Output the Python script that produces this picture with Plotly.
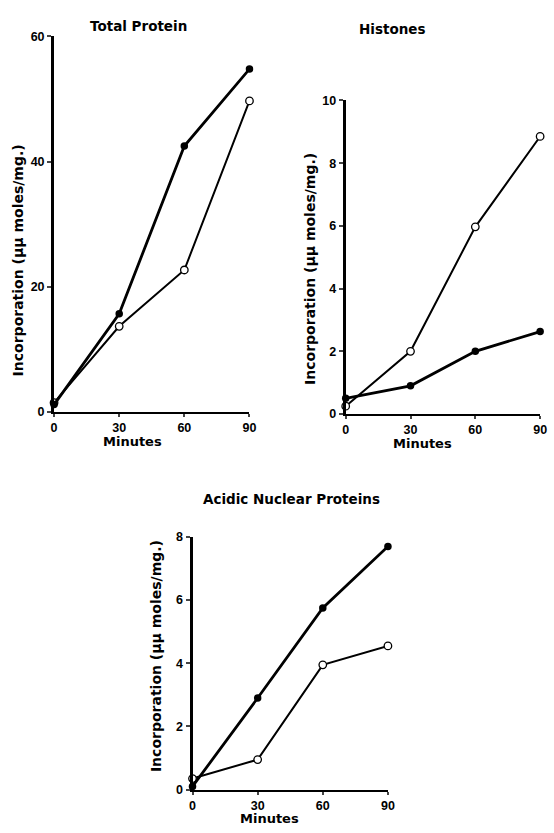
import plotly.graph_objects as go

W, H = 554, 833
minutes = [0, 30, 60, 90]
x_ticks = [0, 30, 60, 90]

total_filled = [1.2, 15.7, 42.5, 54.8]
total_open = [1.5, 13.7, 22.7, 49.7]
hist_filled = [0.5, 0.9, 2.0, 2.63]
hist_open = [0.25, 2.0, 5.97, 8.85]
acid_filled = [0.1, 2.9, 5.75, 7.7]
acid_open = [0.35, 0.95, 3.95, 4.55]

titles = ["Total Protein", "Histones", "Acidic Nuclear Proteins"]
y_title = "Incorporation (μμ moles/mg.)"
x_title = "Minutes"

FONT = "DejaVu Sans"
TICKFONT = "Liberation Sans"

def fx(p):
    return p / W

def fy(p):
    return 1 - p / H

panels = [
    dict(x0=52, x1=251, yt=30, yb=412, ymax=60, ticks=[0, 20, 40, 60],
         filled=total_filled, open=total_open),
    dict(x0=349, x1=547, yt=95, yb=414, ymax=10, ticks=[0, 2, 4, 6, 8, 10],
         filled=hist_filled, open=hist_open),
    dict(x0=193, x1=392, yt=539, yb=796, ymax=8, ticks=[0, 2, 4, 6, 8],
         filled=acid_filled, open=acid_open),
]
title_pos = [(138, 19), (397, 22), (294, 500)]
ytitle_pos = [(15, 258), (312, 266), (156, 660)]
xtitle_pos = [(132, 442), (427, 444), (271, 825)]

fig = go.Figure()
layout = dict(width=W, height=H, margin=dict(l=0, r=0, t=0, b=0),
              paper_bgcolor="white", plot_bgcolor="white", showlegend=False,
              font=dict(family=FONT, color="black"))
annotations = []

def ann(text, pos, size, angle=0):
    return dict(text=text, x=fx(pos[0]), y=fy(pos[1]), xref="paper", yref="paper",
                xanchor="center", yanchor="middle", showarrow=False, textangle=angle,
                font=dict(size=size, family=FONT, weight="bold", color="black"))

for i, p in enumerate(panels):
    n = "" if i == 0 else str(i + 1)
    xa = "x" + n
    ya = "y" + n
    fig.add_trace(go.Scatter(x=minutes, y=p["open"], xaxis=xa, yaxis=ya,
                             mode="lines+markers", cliponaxis=False,
                             line=dict(color="black", width=2),
                             marker=dict(size=7.5, color="white",
                                         line=dict(color="black", width=1.3))))
    fig.add_trace(go.Scatter(x=minutes, y=p["filled"], xaxis=xa, yaxis=ya,
                             mode="lines+markers", cliponaxis=False,
                             line=dict(color="black", width=2.8),
                             marker=dict(size=7.5, color="black")))
    layout["xaxis" + n] = dict(domain=[fx(p["x0"]), fx(p["x1"])], range=[0, 90],
                               anchor=ya, tickvals=x_ticks, ticks="outside",
                               ticklen=3, tickwidth=2, showline=True,
                               linewidth=2, linecolor="black", showgrid=False,
                               zeroline=False,
                               tickfont=dict(size=12.5, family=TICKFONT, weight="bold"))
    layout["yaxis" + n] = dict(domain=[fy(p["yb"]), fy(p["yt"])], range=[0, p["ymax"]],
                               anchor=xa, tickvals=p["ticks"], ticks="outside",
                               ticklen=4, tickwidth=2, showline=True,
                               linewidth=3, linecolor="black", showgrid=False,
                               zeroline=False,
                               tickfont=dict(size=12.5, family=TICKFONT, weight="bold"))
    annotations.append(ann(titles[i], title_pos[i], 13.5))
    annotations.append(ann(y_title, ytitle_pos[i], 14, -90))
    annotations.append(ann(x_title, xtitle_pos[i], 13))

layout["annotations"] = annotations
fig.update_layout(**layout)
fig.write_html("out.html", post_script="document.body.style.margin='0';",
               config={"displayModeBar": False})
